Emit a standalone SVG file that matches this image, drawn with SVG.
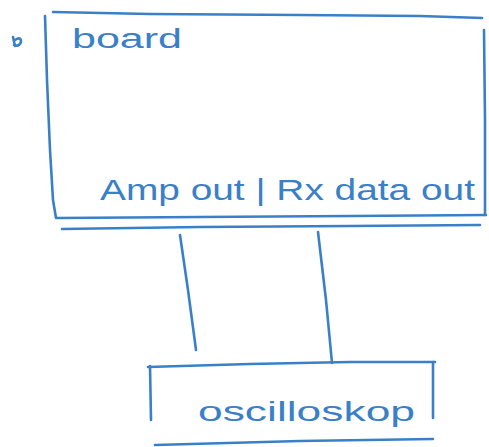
<svg xmlns="http://www.w3.org/2000/svg" width="489" height="447" viewBox="0 0 489 447">
  <style>
    .ln { fill: none; stroke: #3a80c8; stroke-width: 2.6; stroke-linecap: round; stroke-linejoin: round; }
    .tx { fill: #3a80c8; font-family: "Liberation Sans", Arial, sans-serif; }
  </style>
  <rect width="489" height="447" fill="#ffffff"/>
  <g id="mark">
    <path class="ln" d="M13 37 L15 46 M15 40 Q21 36 21 42 Q19 47 14 45" stroke-width="3"/>
  </g>
  <g id="board">
    <path class="ln" d="M53 12 L150 14 L300 15 L420 16 L482 18"/>
    <path class="ln" d="M45 16 L47 80 L50 150 L53 200 L56 218"/>
    <path class="ln" d="M484 30 L485 120 L485 215"/>
    <path class="ln" d="M57 218 L200 217 L350 216 L486 215"/>
    <path class="ln" d="M62 229 L200 227 L350 226 L480 225"/>
    <text class="tx" x="72" y="48" font-size="27" textLength="110" lengthAdjust="spacingAndGlyphs">board</text>
    <text class="tx" x="100" y="200" font-size="29" textLength="375" lengthAdjust="spacingAndGlyphs">Amp out | Rx data out</text>
  </g>
  <g id="connectors">
    <path class="ln" d="M180 235 L188 290 L196 350"/>
    <path class="ln" d="M318 232 L326 300 L332 363"/>
  </g>
  <g id="oscilloscope">
    <path class="ln" d="M148 367 L250 364 L350 362 L435 362"/>
    <path class="ln" d="M150 366 L151 420"/>
    <path class="ln" d="M433 362 L433 418"/>
    <path class="ln" d="M155 445 L300 441 L433 439"/>
    <text class="tx" x="198" y="421" font-size="28" textLength="217" lengthAdjust="spacingAndGlyphs">oscilloskop</text>
  </g>
</svg>
